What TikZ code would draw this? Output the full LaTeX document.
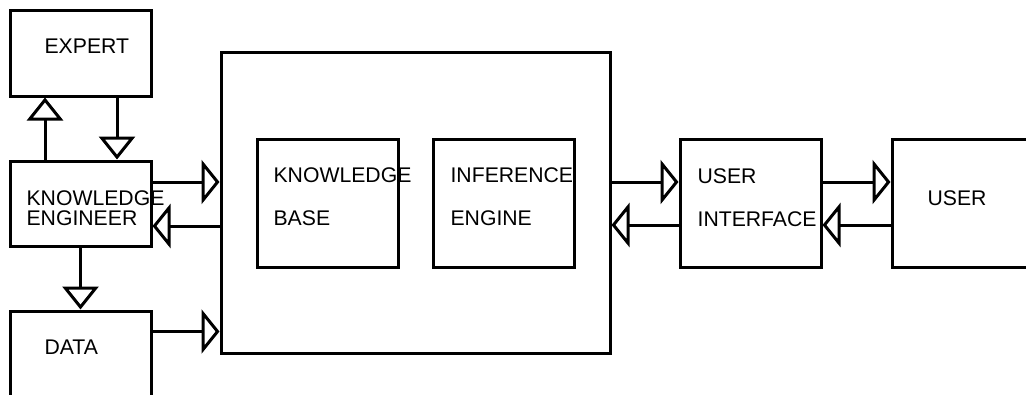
\documentclass[tikz,border=0pt]{standalone}
\usepackage{fontspec}
\setmainfont{Liberation Sans}
\usetikzlibrary{arrows.meta,positioning,calc}
\tikzset{
  bloque/.style={draw=black, line width=3pt, minimum width=141pt, minimum height=#1, inner sep=0pt},
  bloque/.default=128pt,
  rotulo/.style={anchor=north west, inner sep=0pt, align=left, font=\fontsize{21.2}{#1}\selectfont},
  rotulo/.default=43pt,
  flujoh/.style={-{Triangle[open, length=18pt, width=44pt]}, line width=3pt},
  flujov/.style={-{Triangle[open, length=23pt, width=36pt]}, line width=3pt},
}

\begin{document}
\begin{tikzpicture}[x=1pt, y=-1pt]
\useasboundingbox (0,0) rectangle (1026,394);
\clip (0,0) rectangle (1026,394);

% Columna izquierda
\node[bloque=86pt] (expert) at (80.5,53) {};
\node[bloque=85pt] (ke) at (80.5,203.5) {};
\node[bloque=120pt] (data) at (80.5,371) {};

% Sistema experto
\node[bloque=301pt, minimum width=389pt] (shell) at (415.5,202.5) {};
\node[bloque] (kb) at (327.5,203) {};
\node[bloque] (ie) at (503.5,203) {};

% Columna derecha
\node[bloque] (ui) at (750.5,203) {};
\node[bloque, minimum width=160pt] (user) at (972,203) {};

% Rotulos
\node[rotulo] (t-expert) at (44.4,38.3) {EXPERT};
\node[rotulo=20pt] (t-ke) at (26.4,190) {KNOWLEDGE\\ENGINEER};
\node[rotulo] (t-data) at (44.4,340) {DATA};
\node[rotulo] (t-kb) at (273.4,167) {KNOWLEDGE\\BASE};
\node[rotulo] (t-ie) at (450.4,167) {INFERENCE\\ENGINE};
\node[rotulo] (t-ui) at (697.4,168) {USER\\INTERFACE};
\node[rotulo] (t-user) at (927.4,190) {USER};

% Flujos verticales
\draw[flujov] ([xshift=36.5pt]expert.south) -- ([xshift=36.5pt]ke.north);
\draw[flujov] ([xshift=-35.5pt]ke.north) -- ([xshift=-35.5pt]expert.south);
\draw[flujov] (ke.south) -- (data.north);

% Flujos horizontales
\draw[flujoh] ([yshift=21.5pt]ke.east) -- ([yshift=21.5pt]ke.east -| shell.west);
\draw[flujoh] ([yshift=-22.5pt]ke.east -| shell.west) -- ([yshift=-22.5pt]ke.east);
\draw[flujoh] ([yshift=-22pt]data.north east) -- ([yshift=-22pt]data.north east -| shell.west);
\draw[flujoh] ([yshift=21pt]ui.west -| shell.east) -- ([yshift=21pt]ui.west);
\draw[flujoh] ([yshift=-22pt]ui.west) -- ([yshift=-22pt]ui.west -| shell.east);
\draw[flujoh] ([yshift=21pt]ui.east) -- ([yshift=21pt]user.west);
\draw[flujoh] ([yshift=-22pt]user.west) -- ([yshift=-22pt]ui.east);
\end{tikzpicture}
\end{document}
